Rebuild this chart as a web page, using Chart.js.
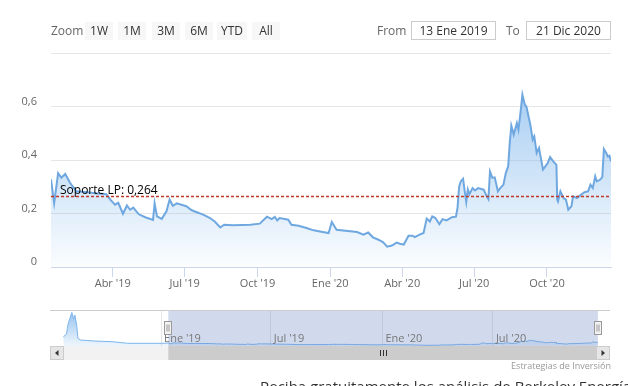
<!DOCTYPE html>
<html>
<head>
<meta charset="utf-8">
<script src="https://cdn.jsdelivr.net/npm/chart.js@4"></script>
<style>
  html, body { margin: 0; padding: 0; background: #fff; overflow: hidden; }
  body { width: 628px; height: 386px; position: relative; font-family: "Open Sans", sans-serif; }
  canvas { position: absolute; left: 0; }
  #main { top: 0; }
  #nav { top: 300px; }
  .t { position: absolute; top: 22px; height: 18px; line-height: 18px; font-size: 12px; color: #666; white-space: nowrap; }
  .btn { background: #f7f7f7; color: #333; text-align: center; width: 28px; }
  .box { top: 21px; height: 19px; line-height: 17px; box-sizing: border-box; border: 1px solid #ccc; width: 85px; text-align: center; color: #333; background: #fff; }
  #credits { position: absolute; right: 17px; top: 359px; font-size: 9px; line-height: 13px; color: #999; }
  #promo { position: absolute; left: 260px; top: 376px; font-size: 15px; line-height: 20px; color: #333; white-space: nowrap; }
</style>
</head>
<body>
<canvas id="main" width="628" height="300"></canvas>
<canvas id="nav" width="628" height="75"></canvas>

<span class="t" style="left:51px">Zoom</span>
<span class="t btn" style="left:85px">1W</span>
<span class="t btn" style="left:118px">1M</span>
<span class="t btn" style="left:152px">3M</span>
<span class="t btn" style="left:185px">6M</span>
<span class="t btn" style="left:217px;width:30px">YTD</span>
<span class="t btn" style="left:252px">All</span>
<span class="t" style="left:377px">From</span>
<span class="t box" style="left:411px">13 Ene 2019</span>
<span class="t" style="left:506px">To</span>
<span class="t box" style="left:526px">21 Dic 2020</span>
<div id="credits">Estrategias de Inversión</div>
<div id="promo">Reciba gratuitamente los análisis de Berkeley Energía</div>

<script>
// cotización diaria (muestreada) 13 Ene 2019 - 21 Dic 2020
const fechas = [
  '2019-01-13','2019-01-17','2019-01-22','2019-01-26','2019-01-31','2019-02-06','2019-02-14','2019-02-25',
  '2019-03-10','2019-03-24','2019-03-29','2019-04-04','2019-04-08','2019-04-14','2019-04-19','2019-04-23',
  '2019-04-27','2019-05-04','2019-05-13','2019-05-22','2019-05-24','2019-05-27','2019-06-02','2019-06-08',
  '2019-06-12','2019-06-16','2019-06-21','2019-07-03','2019-07-10','2019-07-25','2019-08-02','2019-08-08',
  '2019-08-15','2019-08-20','2019-08-31','2019-09-22','2019-10-04','2019-10-13','2019-10-19','2019-10-23',
  '2019-10-26','2019-10-29','2019-11-09','2019-11-13','2019-11-22','2019-12-02','2019-12-11','2019-12-19',
  '2019-12-30','2020-01-03','2020-01-09','2020-02-04','2020-02-12','2020-02-18','2020-02-24','2020-03-02',
  '2020-03-08','2020-03-13','2020-03-19','2020-03-25','2020-03-29','2020-04-03','2020-04-09','2020-04-14',
  '2020-04-17','2020-04-23','2020-04-28','2020-05-02','2020-05-06','2020-05-09','2020-05-13','2020-05-18',
  '2020-05-22','2020-05-27','2020-06-03','2020-06-08','2020-06-10','2020-06-12','2020-06-14','2020-06-17',
  '2020-06-19','2020-06-21','2020-06-23','2020-06-25','2020-06-29','2020-07-02','2020-07-06','2020-07-13',
  '2020-07-17','2020-07-19','2020-07-21','2020-07-24','2020-07-27','2020-07-31','2020-08-03','2020-08-07',
  '2020-08-10','2020-08-13','2020-08-15','2020-08-17','2020-08-20','2020-08-24','2020-08-26','2020-08-29',
  '2020-08-31','2020-09-03','2020-09-05','2020-09-10','2020-09-13','2020-09-15','2020-09-18','2020-09-21',
  '2020-09-26','2020-09-29','2020-10-02','2020-10-05','2020-10-09','2020-10-13','2020-10-14','2020-10-15',
  '2020-10-18','2020-10-22','2020-10-25','2020-10-28','2020-11-01','2020-11-03','2020-11-08','2020-11-13',
  '2020-11-17','2020-11-22','2020-11-25','2020-11-28','2020-12-01','2020-12-03','2020-12-07','2020-12-10',
  '2020-12-12','2020-12-15','2020-12-17','2020-12-19','2020-12-21'
];
const valores = [
  0.328,0.239,0.351,0.334,0.348,0.315,0.283,0.280,
  0.276,0.272,0.252,0.233,0.240,0.199,0.230,0.214,
  0.222,0.197,0.185,0.176,0.238,0.189,0.180,0.208,
  0.252,0.229,0.238,0.227,0.212,0.195,0.183,0.170,
  0.148,0.158,0.156,0.158,0.162,0.188,0.179,0.187,
  0.174,0.183,0.177,0.158,0.154,0.146,0.137,0.133,
  0.127,0.168,0.139,0.131,0.121,0.129,0.111,0.102,
  0.092,0.076,0.080,0.091,0.087,0.084,0.117,0.117,
  0.112,0.121,0.127,0.181,0.170,0.189,0.183,0.160,
  0.179,0.174,0.186,0.188,0.222,0.300,0.320,0.330,
  0.285,0.243,0.290,0.272,0.295,0.286,0.295,0.289,
  0.264,0.254,0.357,0.333,0.335,0.283,0.295,0.308,
  0.351,0.376,0.464,0.528,0.495,0.538,0.513,0.588,
  0.644,0.607,0.600,0.532,0.476,0.488,0.426,0.445,
  0.364,0.376,0.389,0.411,0.395,0.382,0.252,0.245,
  0.283,0.258,0.252,0.214,0.227,0.264,0.258,0.270,
  0.279,0.283,0.308,0.295,0.339,0.320,0.326,0.336,
  0.441,0.426,0.413,0.416,0.395
];

const soporte = 0.264;
const soporteTexto = 'Soporte LP: 0,264';

const tickFechas = ['2019-04-01','2019-07-01','2019-10-01','2020-01-01','2020-04-01','2020-07-01','2020-10-01'];
const tickEtiquetas = ["Abr '19","Jul '19","Oct '19","Ene '20","Abr '20","Jul '20","Oct '20"];

// historia anterior que sólo se ve en el navegador
const navFechas = ['2018-07-24','2018-07-29','2018-08-01','2018-08-07','2018-08-10','2018-08-12','2018-08-15',
  '2018-08-17','2018-08-21','2018-09-14','2018-10-12','2018-11-07','2018-12-14','2019-01-04'];
const navValores = [1.03,1.3,2.5,3.72,3.0,3.44,2.3,0.85,0.67,0.55,0.48,0.30,0.30,0.30];
const navTickFechas = ['2019-01-01','2019-07-01','2020-01-01','2020-07-01'];
const navTickEtiquetas = ["Ene '19","Jul '19","Ene '20","Jul '20"];

const desde = '2019-01-13';
const hasta = '2020-12-21';
const navDesde = '2018-07-02';
const navHasta = '2021-01-10';

const t = f => Date.parse(f);
const serie = fechas.map((f, i) => ({ x: t(f), y: valores[i] }));
const todas = navValores.concat(valores);
const navSerie = navFechas.concat(fechas).map((f, i) => ({ x: t(f), y: todas[i] }));

const fuente = { family: 'Open Sans', size: 11 };

function degradado(arriba, abajo) {
  return ctx => {
    const c = ctx.chart;
    const a = c.chartArea;
    if (!a) return 'rgba(124,181,236,0.3)';
    const g = c.ctx.createLinearGradient(0, a.top, 0, a.bottom);
    g.addColorStop(0, 'rgba(124,181,236,' + arriba + ')');
    g.addColorStop(1, 'rgba(124,181,236,' + abajo + ')');
    return g;
  };
}

const soportePlugin = {
  id: 'soporte',
  afterDatasetsDraw(chart) {
    const { ctx, chartArea: a, scales: { y } } = chart;
    const py = Math.round(y.getPixelForValue(soporte)) + 0.5;
    ctx.save();
    ctx.strokeStyle = '#c0392b';
    ctx.lineWidth = 1.5;
    ctx.setLineDash([3, 2]);
    ctx.beginPath();
    ctx.moveTo(a.left, py);
    ctx.lineTo(a.right, py);
    ctx.stroke();
    ctx.setLineDash([]);
    ctx.fillStyle = '#000';
    ctx.font = '12px "Open Sans"';
    ctx.textBaseline = 'alphabetic';
    ctx.fillText(soporteTexto, a.left + 9, py - 2.5);
    ctx.restore();
  }
};

new Chart(document.getElementById('main'), {
  type: 'line',
  data: {
    datasets: [{
      data: serie,
      borderColor: '#6fa8e0',
      borderWidth: 2,
      pointRadius: 0,
      tension: 0,
      fill: 'origin',
      backgroundColor: degradado(0.8, 0.03)
    }]
  },
  options: {
    responsive: false,
    animation: false,
    events: [],
    layout: { padding: { top: 53, right: 17, left: 0, bottom: 0 } },
    plugins: { legend: { display: false }, tooltip: { enabled: false } },
    scales: {
      x: {
        type: 'linear',
        min: t(desde),
        max: t(hasta),
        afterBuildTicks: s => { s.ticks = tickFechas.map(f => ({ value: t(f) })); },
        afterFit: s => { s.height = 33; },
        ticks: {
          autoSkip: false, maxRotation: 0, padding: 0, color: '#666', font: fuente,
          callback: v => tickEtiquetas[tickFechas.findIndex(f => t(f) === v)]
        },
        grid: { drawOnChartArea: false, drawTicks: true, tickLength: 10, color: '#ccd6eb' },
        border: { color: '#ccd6eb' }
      },
      y: {
        min: 0,
        max: 0.8,
        afterFit: s => { s.width = 51; },
        ticks: {
          stepSize: 0.2, padding: 14, labelOffset: -5, color: '#666', font: fuente,
          callback: v => v > 0.79 ? '' : (v === 0 ? '0' : v.toFixed(1).replace('.', ','))
        },
        grid: { color: '#e6e6e6', drawTicks: false },
        border: { display: false }
      }
    }
  },
  plugins: [soportePlugin]
});

const navPlugin = {
  id: 'navegador',
  afterDraw(chart) {
    const { ctx, chartArea: a, scales: { x } } = chart;
    const x0 = x.getPixelForValue(t(desde));
    const x1 = x.getPixelForValue(t(hasta));
    ctx.save();
    // zona seleccionada
    ctx.fillStyle = 'rgba(102,133,194,0.3)';
    ctx.fillRect(x0, a.top, x1 - x0, a.bottom - a.top);
    // borde superior
    ctx.strokeStyle = '#ccc';
    ctx.lineWidth = 1;
    ctx.beginPath();
    ctx.moveTo(a.left, a.top + 0.5);
    ctx.lineTo(a.right, a.top + 0.5);
    ctx.stroke();
    // etiquetas
    ctx.fillStyle = '#777';
    ctx.font = '11px "Open Sans"';
    ctx.textBaseline = 'middle';
    navTickFechas.forEach((f, i) => ctx.fillText(navTickEtiquetas[i], x.getPixelForValue(t(f)) + 3, a.bottom - 7));
    // scrollbar
    const sy = a.bottom, sh = 14;
    ctx.fillStyle = '#f2f2f2';
    ctx.fillRect(a.left, sy, a.right - a.left, sh);
    ctx.fillStyle = '#cccccc';
    ctx.fillRect(x0, sy, x1 - x0, sh);
    ctx.strokeStyle = '#333';
    const cx = Math.round((x0 + x1) / 2) + 0.5;
    [-3, 0, 3].forEach(d => {
      ctx.beginPath();
      ctx.moveTo(cx + d, sy + 4);
      ctx.lineTo(cx + d, sy + 10);
      ctx.stroke();
    });
    [[a.left, 1], [a.right - 14, -1]].forEach(([bx, dir]) => {
      ctx.fillStyle = '#e6e6e6';
      ctx.fillRect(bx, sy, 14, sh);
      ctx.strokeStyle = '#ccc';
      ctx.strokeRect(bx + 0.5, sy + 0.5, 13, sh - 1);
      ctx.fillStyle = '#333';
      const mx = bx + 7;
      ctx.beginPath();
      ctx.moveTo(mx - 2 * dir, sy + 7);
      ctx.lineTo(mx + 1.5 * dir, sy + 4);
      ctx.lineTo(mx + 1.5 * dir, sy + 10);
      ctx.closePath();
      ctx.fill();
    });
    // asas
    [x0, x1].forEach(px => {
      const hx = Math.round(px) - 3.5;
      const hy = Math.round((a.top + a.bottom) / 2) - 6.5;
      ctx.fillStyle = '#f2f2f2';
      ctx.fillRect(hx, hy, 7, 13);
      ctx.strokeStyle = '#999';
      ctx.strokeRect(hx, hy, 7, 13);
      ctx.beginPath();
      ctx.moveTo(hx + 2.5, hy + 3);
      ctx.lineTo(hx + 2.5, hy + 10);
      ctx.moveTo(hx + 4.5, hy + 3);
      ctx.lineTo(hx + 4.5, hy + 10);
      ctx.stroke();
    });
    ctx.restore();
  }
};

new Chart(document.getElementById('nav'), {
  type: 'line',
  data: {
    datasets: [{
      data: navSerie,
      borderColor: '#7cb5ec',
      borderWidth: 1,
      pointRadius: 0,
      tension: 0,
      fill: 'origin',
      backgroundColor: degradado(0.85, 0.12)
    }]
  },
  options: {
    responsive: false,
    animation: false,
    events: [],
    layout: { padding: { top: 10, right: 18, left: 50, bottom: 29 } },
    plugins: { legend: { display: false }, tooltip: { enabled: false } },
    scales: {
      x: {
        type: 'linear',
        min: t(navDesde),
        max: t(navHasta),
        afterBuildTicks: s => { s.ticks = navTickFechas.map(f => ({ value: t(f) })); },
        afterFit: s => { s.height = 0; },
        ticks: { display: false },
        grid: { drawTicks: false, color: '#e6e6e6' },
        border: { display: false }
      },
      y: { display: false, min: 0, max: 4 }
    }
  },
  plugins: [navPlugin]
});
</script>
</body>
</html>
